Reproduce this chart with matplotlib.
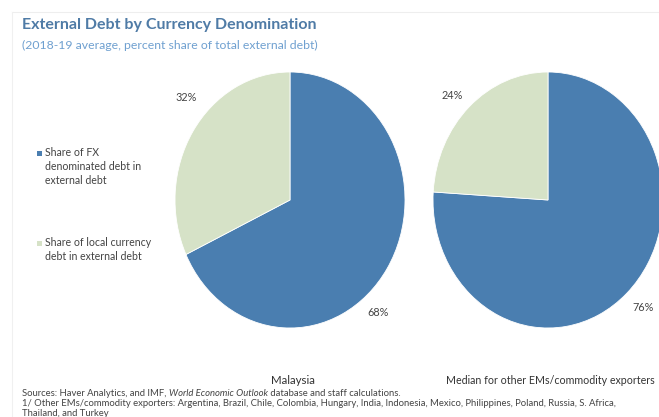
import matplotlib.pyplot as plt
from matplotlib.patches import Rectangle
from matplotlib.lines import Line2D

plt.rcParams['font.family'] = ['Lato', 'DejaVu Sans']

# Datos
paises = ['Malaysia', 'Median for other EMs/commodity exporters']
share_fx = [68, 76]
share_local = [32, 24]
series = ['Share of FX\ndenominated debt in\nexternal debt',
          'Share of local currency\ndebt in external debt']

azul = '#4a7eb0'
verde = '#d6e2c7'

W, H = 659, 417
fig = plt.figure(figsize=(W / 100, H / 100), dpi=100)


def px(x, y):
    # pixel (desde arriba-izquierda) -> coordenadas de figura
    return x / W, 1 - y / H


# marco claro
fig.add_artist(Line2D([12 / W, 1], [1 - 12 / H] * 2, color='#eeeeee', lw=0.8))
fig.add_artist(Line2D([12 / W] * 2, [1 - 12 / H, 0], color='#f0f0f0', lw=0.8))

fig.text(*px(22, 25), 'External Debt by Currency Denomination', fontsize=11.5,
         fontweight='bold', color='#4f7ba6', va='center')
fig.text(*px(22, 45), '(2018-19 average, percent share of total external debt)',
         fontsize=8.8, color='#6fa0d0', va='center')

# centros de pies en pixeles, radios (horizontal, vertical)
centros = [(290, 200), (548, 200)]
rx, ry = 115, 128
# posicion de etiquetas relativa al radio
pos_fx = [(0.77, -0.875), (0.83, -0.84)]
pos_local = [(-0.90, 0.80), (-0.835, 0.82)]

for i, (cx, cy) in enumerate(centros):
    ax = fig.add_axes([(cx - rx) / W, (H - cy - ry) / H, 2 * rx / W, 2 * ry / H])
    ax.pie([share_fx[i], share_local[i]], colors=[azul, verde], startangle=90,
           counterclock=False, wedgeprops=dict(edgecolor='white', linewidth=0.6))
    ax.set_aspect('auto')
    ax.set_xlim(-1, 1)
    ax.set_ylim(-1, 1)
    ax.axis('off')
    ax.text(*pos_fx[i], f'{share_fx[i]}%', fontsize=7.8, color='#444444',
            ha='center', va='center')
    ax.text(*pos_local[i], f'{share_local[i]}%', fontsize=7.8, color='#444444',
            ha='center', va='center')

fig.text(*px(293, 381), paises[0], fontsize=8.3, color='#333333', ha='center', va='center')
fig.text(*px(550, 381), paises[1], fontsize=7.7, color='#333333', ha='center', va='center')

# leyenda
for (ly, txt, col) in [(153, series[0], azul), (243, series[1], verde)]:
    fig.add_artist(Rectangle(((37) / W, 1 - (ly + 3) / H), 5 / W, 5 / H,
                             facecolor=col, edgecolor='none'))
    fig.text(*px(45, ly - 6), txt, fontsize=7.6, color='#444444', va='top',
             linespacing=1.35)

# notas
fs = 6.8
partes = [('Sources: Haver Analytics, and IMF, ', 'normal'),
          ('World Economic Outlook', 'italic'),
          (' database and staff calculations.', 'normal')]
fig.canvas.draw()
r = fig.canvas.get_renderer()
x0 = 22
for txt, estilo in partes:
    t = fig.text(*px(x0, 393), txt, fontsize=fs, style=estilo, color='#444444', va='center')
    x0 += t.get_window_extent(renderer=r).width
fig.text(*px(22, 404), '1/ Other EMs/commodity exporters: Argentina, Brazil, Chile, Colombia, '
         'Hungary, India, Indonesia, Mexico, Philippines, Poland, Russia, S. Africa,',
         fontsize=fs, color='#444444', va='center')
fig.text(*px(22, 413), 'Thailand, and Turkey', fontsize=fs, color='#444444', va='center')

fig.savefig('out.png', dpi=100)
